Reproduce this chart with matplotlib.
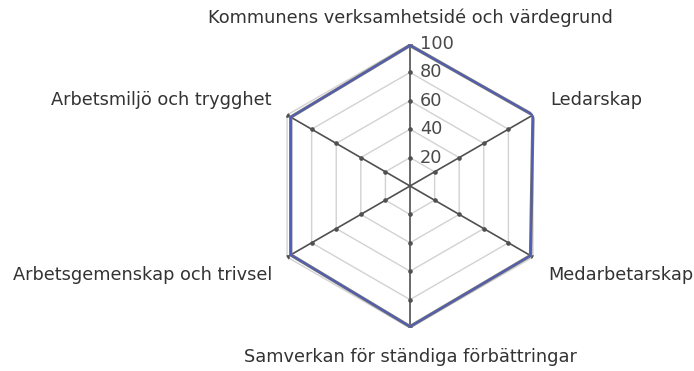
import numpy as np
import matplotlib
matplotlib.use("Agg")
import matplotlib.pyplot as plt
from matplotlib.transforms import offset_copy

plt.rcParams["font.family"] = ["DejaVu Sans"]

categories = ["Kommunens verksamhetsidé och värdegrund", "Ledarskap", "Medarbetarskap",
              "Samverkan för ständiga förbättringar", "Arbetsgemenskap och trivsel",
              "Arbetsmiljö och trygghet"]
values = [99, 100, 98, 99, 97, 97]
levels = [20, 40, 60, 80, 100]

fig = plt.figure(figsize=(6.94, 3.71), dpi=100)
ax = fig.add_axes([0.3862, 0.1159, 0.4092, 0.7655], projection="polar")
ax.set_theta_zero_location("N")
ax.set_theta_direction(-1)
ax.set_ylim(0, 100)
ax.grid(False)
ax.spines["polar"].set_visible(False)
ax.set_xticks([])
ax.set_yticks([])
ax.patch.set_alpha(0)

n = len(categories)
ang = np.linspace(0, 2 * np.pi, n, endpoint=False)
ang_c = np.append(ang, ang[0])

# hexagon grid
for lv in levels:
    ax.plot(ang_c, [lv] * (n + 1), color="#d2d2d2", lw=1.0, zorder=1)

# axes with tick dots
for a in ang:
    ax.plot([a, a], [0, 100], color="#505050", lw=1.2, zorder=2)
    ax.plot([a] * len(levels), levels, ls="none", marker="o", ms=2.3,
            color="#505050", zorder=2)

# data
vals_c = values + values[:1]
ax.plot(ang_c, vals_c, color="#707078", lw=2.4, zorder=3)
ax.plot(ang_c, vals_c, color="#4f5cb8", lw=1.2, zorder=4)

# radial labels
tr = offset_copy(ax.transData, fig=fig, x=10, y=0, units="dots")
for lv in levels:
    ax.text(0, lv, str(lv), transform=tr, ha="left", va="center",
            fontsize=12.8, color="#4a4a4a")

# category labels
txt = dict(fontsize=12.8, color="#333333", va="center")
ax.text(0, 118.3, categories[0], ha="center", **txt)
ax.text(np.radians(58.4), 115.7, categories[1], ha="left", **txt)
ax.text(np.radians(122.8), 115.6, categories[2], ha="left", **txt)
ax.text(np.pi, 120.4, categories[3], ha="center", **txt)
ax.text(np.radians(237.2), 115.6, categories[4], ha="right", **txt)
ax.text(np.radians(301.9), 114.5, categories[5], ha="right", **txt)

fig.savefig("out.png", dpi=100)
